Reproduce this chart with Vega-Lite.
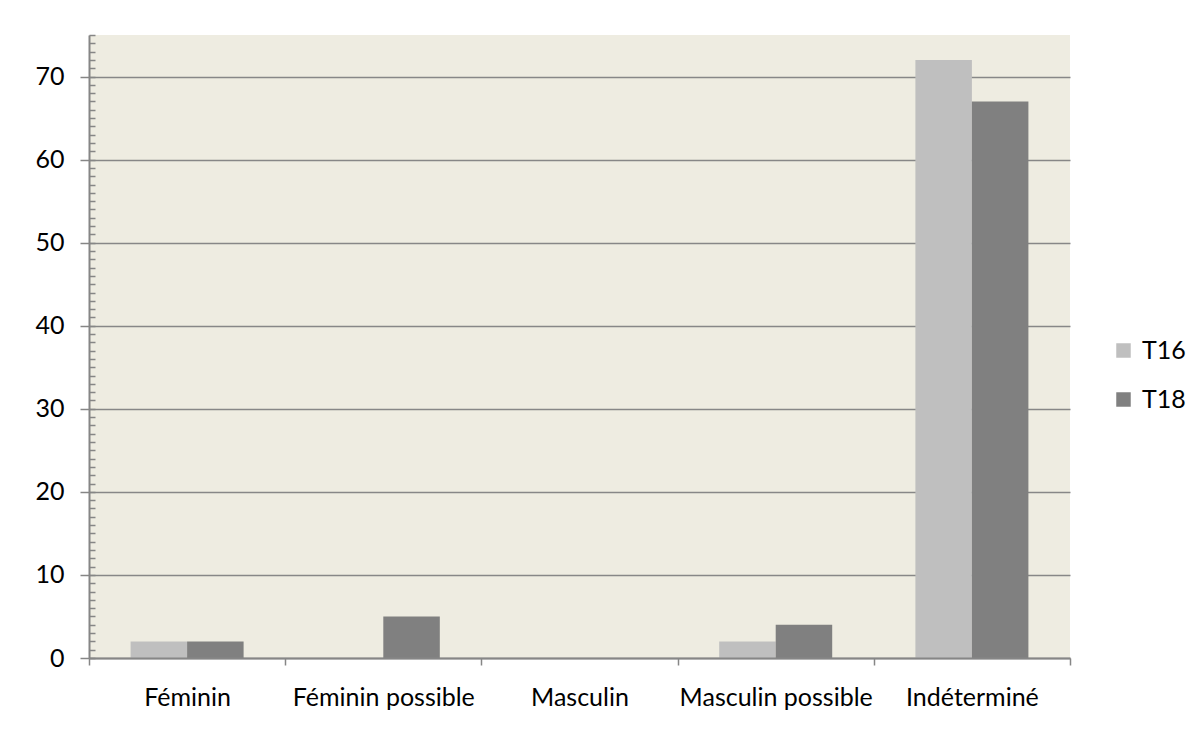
{
  "$schema": "https://vega.github.io/schema/vega-lite/v6.json",
  "width": 981,
  "height": 623,
  "autosize": "none",
  "padding": {"left": 89, "top": 35, "right": 131, "bottom": 86},
  "background": "white",
  "config": {
    "view": {"fill": "#EEECE1", "stroke": null},
    "font": "Lato"
  },
  "data": {
    "values": [
      {"cat": "Féminin", "series": "T16", "value": 2},
      {"cat": "Féminin", "series": "T18", "value": 2},
      {"cat": "Féminin possible", "series": "T16", "value": 0},
      {"cat": "Féminin possible", "series": "T18", "value": 5},
      {"cat": "Masculin", "series": "T16", "value": 0},
      {"cat": "Masculin", "series": "T18", "value": 0},
      {"cat": "Masculin possible", "series": "T16", "value": 2},
      {"cat": "Masculin possible", "series": "T18", "value": 4},
      {"cat": "Indéterminé", "series": "T16", "value": 72},
      {"cat": "Indéterminé", "series": "T18", "value": 67}
    ]
  },
  "resolve": {"axis": {"y": "independent"}},
  "layer": [
    {
      "mark": {"type": "bar", "opacity": 0},
      "encoding": {
        "y": {
          "field": "value",
          "type": "quantitative",
          "scale": {"domain": [0, 75], "nice": false, "zero": true},
          "axis": {
            "orient": "left",
            "values": [0,1,2,3,4,5,6,7,8,9,10,11,12,13,14,15,16,17,18,19,20,21,22,23,24,25,26,27,28,29,30,31,32,33,34,35,36,37,38,39,40,41,42,43,44,45,46,47,48,49,50,51,52,53,54,55,56,57,58,59,60,61,62,63,64,65,66,67,68,69,70,71,72,73,74,75],
            "labels": false,
            "grid": false,
            "domain": false,
            "ticks": true,
            "tickSize": -6,
            "tickColor": "#868686",
            "tickWidth": 1.5,
            "title": null,
            "zindex": 2
          }
        }
      }
    },
    {
      "mark": {"type": "bar"},
      "encoding": {
        "x": {
          "field": "cat",
          "type": "nominal",
          "sort": ["Féminin", "Féminin possible", "Masculin", "Masculin possible", "Indéterminé"],
          "scale": {"paddingInner": 0, "paddingOuter": 0},
          "axis": {
            "title": null,
            "labelAngle": 0,
            "labelLimit": 0,
            "tickBand": "extent",
            "tickSize": 7,
            "tickColor": "#868686",
            "tickWidth": 1.5,
            "domainColor": "#868686",
            "domainWidth": 2,
            "labelFontSize": 25,
            "labelColor": "black",
            "labelPadding": 20,
            "grid": false,
            "zindex": 1
          }
        },
        "xOffset": {
          "field": "series",
          "scale": {"paddingOuter": 0.736, "paddingInner": 0}
        },
        "y": {
          "field": "value",
          "type": "quantitative",
          "axis": {
            "orient": "left",
            "values": [0, 10, 20, 30, 40, 50, 60, 70],
            "title": null,
            "grid": true,
            "gridColor": "#878787",
            "gridWidth": 1.5,
            "tickSize": 9,
            "tickColor": "#868686",
            "tickWidth": 1.5,
            "domainColor": "#868686",
            "domainWidth": 2,
            "labelFontSize": 25,
            "labelColor": "black",
            "labelPadding": 16
          }
        },
        "color": {
          "field": "series",
          "type": "nominal",
          "scale": {"domain": ["T16", "T18"], "range": ["#BFBFBF", "#808080"]},
          "legend": {
            "title": null,
            "orient": "none",
            "legendX": 1022,
            "legendY": 303,
            "symbolType": "square",
            "symbolSize": 210,
            "symbolStrokeWidth": 0,
            "labelFontSize": 25,
            "labelColor": "black",
            "labelLimit": 0,
            "rowPadding": 23,
            "labelOffset": 6
          }
        }
      }
    }
  ]
}
